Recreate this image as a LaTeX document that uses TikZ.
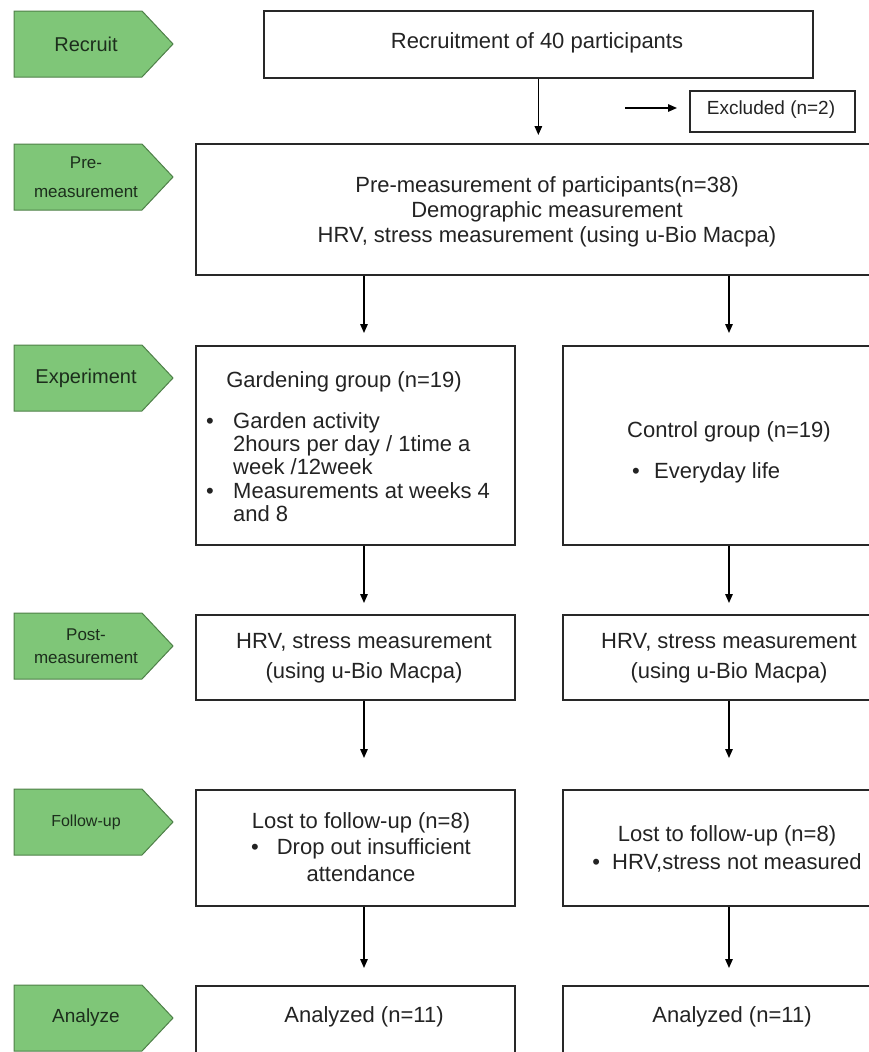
\documentclass[tikz,border=0pt]{standalone}
\usepackage{fontspec}
\setmainfont{Liberation Sans}
\usetikzlibrary{arrows.meta}

\definecolor{stagefill}{RGB}{127,198,120}
\definecolor{stageline}{RGB}{78,128,72}
\definecolor{stagetext}{RGB}{28,46,28}
\definecolor{boxline}{RGB}{40,40,40}
\definecolor{boxtext}{RGB}{35,35,35}

\tikzset{
  flowbox/.style={draw=boxline, line width=1.7pt, anchor=north west, inner sep=0pt},
  boxtxt/.style={font=\fontsize{22}{25}\selectfont, text=boxtext, align=center, inner sep=0pt},
  stagepath/.style={draw=stageline, fill=stagefill, line width=1pt},
  stagetxt/.style={text=stagetext, align=center, inner sep=0pt},
  arr/.style={draw=black, line width=1.4pt, -{Triangle[length=9pt,width=7.5pt]}},
}

\begin{document}
\begin{tikzpicture}[x=1pt,y=-1pt]
    \useasboundingbox (0,0) rectangle (869,1052);
    \clip (0,0) rectangle (869,1052);
    %% column positions
    \coordinate (colL) at (364,0);
    \coordinate (colR) at (729,0);
    %% stage labels
    \foreach \y/\name/\fs/\ls/\txt in {11/recruit/20/24/Recruit, 144/pre/17/29/{Pre-\\measurement},
        345/exp/20/24/Experiment, 613/post/17/23/{Post-\\measurement},
        789/follow/16/24/Follow-up, 985/analyze/19/24/Analyze} {
        \draw[stagepath] (14,\y) -- (142,\y) -- (173,\y+33) -- (142,\y+66) -- (14,\y+66) -- cycle;
        \node[stagetxt, font=\fontsize{\fs}{\ls}\selectfont] (st-\name) at (86,\y+33) {\txt};
    }
    %% boxes
    \node[flowbox, minimum width=549pt, minimum height=67pt] (recruit) at (263,10) {};
    \node[flowbox, minimum width=165pt, minimum height=41pt] (excl) at (689,90) {};
    \node[flowbox, minimum width=704pt, minimum height=131pt] (pre) at (195,143) {};
    \node[flowbox, minimum width=319pt, minimum height=199pt] (garden) at (195,345) {};
    \node[flowbox, minimum width=336pt, minimum height=199pt] (control) at (562,345) {};
    \node[flowbox, minimum width=319pt, minimum height=85pt] (gpost) at (195,614) {};
    \node[flowbox, minimum width=336pt, minimum height=85pt] (cpost) at (562,614) {};
    \node[flowbox, minimum width=319pt, minimum height=116pt] (gfollow) at (195,789) {};
    \node[flowbox, minimum width=336pt, minimum height=116pt] (cfollow) at (562,789) {};
    \node[flowbox, minimum width=319pt, minimum height=100pt] (ganal) at (195,985) {};
    \node[flowbox, minimum width=336pt, minimum height=100pt] (canal) at (562,985) {};
    %% box texts
    \node[boxtxt] (recruit-t) at (537,43) {Recruitment of 40 participants};
    \node[boxtxt, font=\fontsize{19}{22}\selectfont] (excl-t) at (771,110) {Excluded (n=2)};
    \node[boxtxt] (pre-t) at (547,212) {Pre-measurement of participants(n=38)\\Demographic measurement\\HRV, stress measurement (using u-Bio Macpa)};
    \node[boxtxt] (garden-t) at (344,382) {Gardening group (n=19)};
    \node[boxtxt, align=left, anchor=west, font=\fontsize{22}{23.3}\selectfont] (garden-l) at (206,467)
        {\makebox[27pt][l]{•}Garden activity\\\makebox[27pt]{}2hours per day / 1time a\\\makebox[27pt]{}week /12week\\\makebox[27pt][l]{•}Measurements at weeks 4\\\makebox[27pt]{}and 8};
    \node[boxtxt] (control-t) at (729,432) {Control group (n=19)};
    \node[boxtxt, anchor=west] (control-l) at (632,473) {\makebox[22pt][l]{•}Everyday life};
    \node[boxtxt, font=\fontsize{22}{30}\selectfont] (gpost-t) at (364,658) {HRV, stress measurement\\(using u-Bio Macpa)};
    \node[boxtxt, font=\fontsize{22}{30}\selectfont] (cpost-t) at (729,658) {HRV, stress measurement\\(using u-Bio Macpa)};
    \node[boxtxt, font=\fontsize{22}{26.5}\selectfont] (gfollow-t) at (361,847) {Lost to follow-up (n=8)\\•\hspace{18pt}Drop out insufficient\\attendance};
    \node[boxtxt, font=\fontsize{22}{28}\selectfont] (cfollow-t) at (727,849) {Lost to follow-up (n=8)\\•\hspace{12pt}HRV,stress not measured};
    \node[boxtxt] (ganal-t) at (364,1017) {Analyzed (n=11)};
    \node[boxtxt] (canal-t) at (732,1017) {Analyzed (n=11)};
    %% connectors
    \draw[arr, shorten >=8pt] (recruit.south) -- (recruit.south |- pre.north);
    \coordinate (exclfrom) at (625,108);
    \draw[arr, shorten >=12pt] (exclfrom) -- (exclfrom -| excl.west);
    \foreach \a/\b/\gap in {pre/garden/12, garden/gpost/11, gpost/gfollow/31, gfollow/ganal/17}
        \draw[arr, shorten >=\gap pt] (\a.south -| colL) -- (\b.north -| colL);
    \foreach \a/\b/\gap in {pre/control/12, control/cpost/11, cpost/cfollow/31, cfollow/canal/17}
        \draw[arr, shorten >=\gap pt] (\a.south -| colR) -- (\b.north -| colR);
\end{tikzpicture}
\end{document}
